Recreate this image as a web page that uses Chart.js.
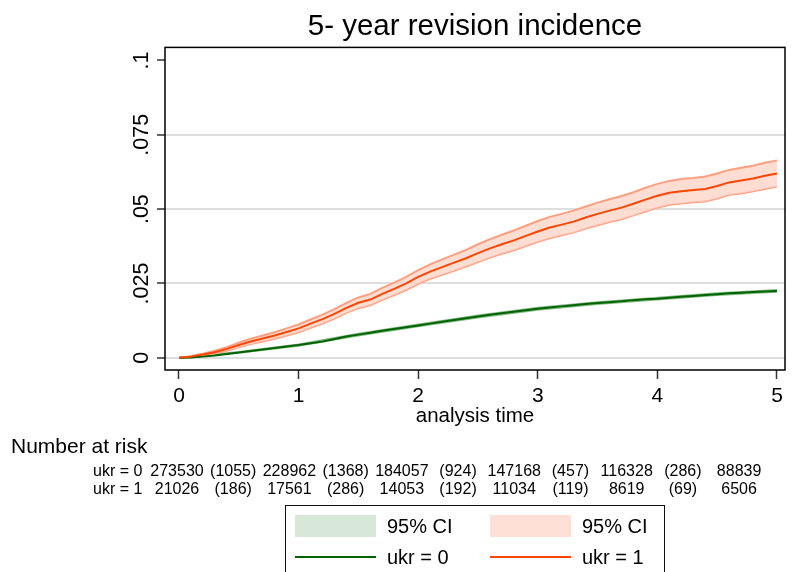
<!DOCTYPE html>
<html>
<head>
<meta charset="utf-8">
<title>5- year revision incidence</title>
<script src="https://cdn.jsdelivr.net/npm/chart.js@4.4.1/dist/chart.umd.min.js"></script>
<style>
  body { margin: 0; background: #fff; font-family: "Liberation Sans", Arial, sans-serif; }
  #wrap { position: relative; width: 798px; height: 572px; overflow: hidden; }
  #chart { position: absolute; left: 0; top: 0; }
  .txt { position: absolute; white-space: nowrap; color: #000; line-height: 1; }
  .risk { font-size: 16px; transform: translate(-50%, -50%); }
  #legend { position: absolute; left: 285px; top: 505px; width: 378px; height: 90px; border: 1px solid #111; }
  .sw { position: absolute; width: 81px; height: 22px; }
  .ln { position: absolute; width: 81px; height: 2px; }
  .lt { position: absolute; font-size: 20px; transform: translateY(-50%); }
</style>
</head>
<body>
<div id="wrap">
  <canvas id="chart" width="798" height="572"></canvas>
  <div class="txt" style="left:11px; top:435px; font-size:21px;">Number at risk</div>
  <div id="risk"></div>
  <div id="legend"></div>
</div>
<script>
// analysis time grid (years)
let times = [0, 0.1, 0.2, 0.3, 0.4, 0.5, 0.6, 0.7, 0.8, 0.9,
             1, 1.1, 1.2, 1.3, 1.4, 1.5, 1.6, 1.7, 1.8, 1.9,
             2, 2.1, 2.2, 2.3, 2.4, 2.5, 2.6, 2.7, 2.8, 2.9,
             3, 3.1, 3.2, 3.3, 3.4, 3.5, 3.6, 3.7, 3.8, 3.9,
             4, 4.1, 4.2, 4.3, 4.4, 4.5, 4.6, 4.7, 4.8, 4.9, 5];

// cumulative incidence, ukr = 0
let ukr0 = [0, 0.0001, 0.0004, 0.0008, 0.0013, 0.0018, 0.0023, 0.0028, 0.0033, 0.0038,
            0.0043, 0.0049, 0.0055, 0.0063, 0.0072, 0.0078, 0.0084, 0.0091, 0.0097, 0.0103,
            0.0109, 0.0115, 0.0121, 0.0127, 0.0133, 0.0139, 0.0145, 0.0150, 0.0155, 0.0160,
            0.0165, 0.0169, 0.0173, 0.0177, 0.0181, 0.0184, 0.0187, 0.0190, 0.0194, 0.0197,
            0.0199, 0.0202, 0.0205, 0.0208, 0.0211, 0.0214, 0.0217, 0.0219, 0.0221, 0.0223, 0.0225];

// cumulative incidence, ukr = 1
let ukr1 = [0, 0.0004, 0.0011, 0.0019, 0.0030, 0.0043, 0.0055, 0.0065, 0.0075, 0.0087,
            0.0099, 0.0115, 0.0130, 0.0148, 0.0168, 0.0185, 0.0196, 0.0215, 0.0232, 0.0250,
            0.0272, 0.0290, 0.0305, 0.0320, 0.0335, 0.0352, 0.0368, 0.0382, 0.0395, 0.0410,
            0.0425, 0.0438, 0.0448, 0.0458, 0.0472, 0.0484, 0.0495, 0.0505, 0.0518, 0.0532,
            0.0545, 0.0555, 0.0560, 0.0564, 0.0568, 0.0578, 0.0590, 0.0596, 0.0603, 0.0612, 0.0620];

let ukr1Lo = [0, 0.0002, 0.0008, 0.0014, 0.0024, 0.0035, 0.0046, 0.0055, 0.0064, 0.0075,
              0.0086, 0.0101, 0.0115, 0.0132, 0.0151, 0.0167, 0.0177, 0.0195, 0.0211, 0.0228,
              0.0249, 0.0266, 0.0279, 0.0293, 0.0307, 0.0322, 0.0337, 0.0350, 0.0362, 0.0376,
              0.0390, 0.0402, 0.0412, 0.0421, 0.0435, 0.0446, 0.0457, 0.0466, 0.0479, 0.0492,
              0.0505, 0.0515, 0.0519, 0.0523, 0.0526, 0.0536, 0.0548, 0.0553, 0.0560, 0.0568, 0.0576];

let ukr1Hi = [0, 0.0006, 0.0014, 0.0024, 0.0036, 0.0051, 0.0064, 0.0075, 0.0086, 0.0099,
              0.0112, 0.0129, 0.0145, 0.0164, 0.0185, 0.0203, 0.0215, 0.0235, 0.0253, 0.0272,
              0.0295, 0.0314, 0.0331, 0.0347, 0.0363, 0.0382, 0.0399, 0.0414, 0.0428, 0.0444,
              0.0460, 0.0474, 0.0484, 0.0495, 0.0509, 0.0522, 0.0533, 0.0544, 0.0557, 0.0572,
              0.0585, 0.0595, 0.0601, 0.0605, 0.0610, 0.0620, 0.0632, 0.0639, 0.0646, 0.0656, 0.0664];

// ukr = 0 band is narrow, half-year steps are enough
let ciTimes0 = [0, 0.5, 1, 1.5, 2, 2.5, 3, 3.5, 4, 4.5, 5];
let ukr0Lo = [0, 0.0016, 0.0040, 0.0074, 0.0105, 0.0135, 0.0161, 0.0180, 0.0195, 0.0210, 0.0221];
let ukr0Hi = [0, 0.0020, 0.0046, 0.0082, 0.0113, 0.0143, 0.0169, 0.0188, 0.0203, 0.0218, 0.0229];

let xTicks = [0, 1, 2, 3, 4, 5];
let yTicks = [0, 0.025, 0.05, 0.075, 0.1];
let yTickLabels = ['0', '.025', '.05', '.075', '.1'];

// number at risk table
let riskTimes = [0, 1, 2, 3, 4, 5];
let atRisk0 = [273530, 228962, 184057, 147168, 116328, 88839];
let censored0 = [1055, 1368, 924, 457, 286];
let atRisk1 = [21026, 17561, 14053, 11034, 8619, 6506];
let censored1 = [186, 286, 192, 119, 69];

const GREEN = '#006400', ORANGE = '#ff4500';
const FONT = '"Liberation Sans", Arial, sans-serif';

function pts(xs, ys) { return xs.map((x, i) => ({x: x, y: ys[i]})); }

// frame round the plot region plus the vertical y labels
const plotFrame = {
  id: 'plotFrame',
  afterDatasetsDraw(chart) {
    const {ctx, chartArea: a} = chart;
    ctx.save();
    ctx.strokeStyle = '#000';
    ctx.lineWidth = 1.5;
    ctx.strokeRect(a.left, a.top, a.right - a.left, a.bottom - a.top);
    ctx.restore();
  },
  afterDraw(chart) {
    const {ctx} = chart;
    const ys = chart.scales.y;
    ctx.save();
    ctx.fillStyle = '#000';
    ctx.font = '21.5px ' + FONT;
    ctx.textAlign = 'center';
    ctx.textBaseline = 'middle';
    ys.ticks.forEach((tk, i) => {
      ctx.save();
      ctx.translate(142, ys.getPixelForValue(tk.value));
      ctx.rotate(-Math.PI / 2);
      ctx.fillText(yTickLabels[i], 0, 0);
      ctx.restore();
    });
    ctx.restore();
  }
};

let ctx = document.getElementById('chart').getContext('2d');
let chart = new Chart(ctx, {
  type: 'line',
  data: {
    datasets: [
      { label: 'ukr = 1', data: pts(times, ukr1), borderColor: ORANGE, borderWidth: 2, order: 0 },
      { label: 'ukr = 0', data: pts(times, ukr0), borderColor: GREEN, borderWidth: 2, order: 1 },
      { label: '95% CI', data: pts(times, ukr1Hi), borderColor: '#ff9f80', borderWidth: 2,
        backgroundColor: 'rgba(253, 210, 196, 0.75)', fill: '+1', order: 2 },
      { label: 'ukr1 lo', data: pts(times, ukr1Lo), borderColor: '#ff9f80', borderWidth: 2, order: 3 },
      { label: '95% CI', data: pts(ciTimes0, ukr0Hi), borderColor: 'rgba(60, 140, 60, 0.6)', borderWidth: 1.5,
        backgroundColor: 'rgba(120, 180, 120, 0.5)', fill: '+1', order: 4 },
      { label: 'ukr0 lo', data: pts(ciTimes0, ukr0Lo), borderColor: 'rgba(60, 140, 60, 0.6)', borderWidth: 1.5, order: 5 }
    ]
  },
  options: {
    responsive: false,
    animation: false,
    elements: {
      point: { radius: 0 },
      line: { tension: 0 }
    },
    layout: {
      padding: { left: 0, right: 13, top: 0, bottom: 127 }
    },
    plugins: {
      legend: { display: false },
      tooltip: { enabled: false },
      title: {
        display: true,
        text: '5- year revision incidence',
        fullSize: false,
        color: '#000',
        font: { family: FONT, size: 29.5, weight: 'normal' },
        padding: { top: 9, bottom: 3 }
      }
    },
    scales: {
      x: {
        type: 'linear',
        min: -0.117,
        max: 5.067,
        afterBuildTicks: s => { s.ticks = xTicks.map(v => ({value: v})); },
        afterFit: s => { s.height = 75; },
        grid: { drawOnChartArea: false, tickLength: 9, tickColor: '#333', tickWidth: 1.5 },
        border: { display: false },
        ticks: {
          color: '#000',
          padding: 5,
          maxRotation: 0,
          font: { family: FONT, size: 21 },
          callback: (v, i) => String(xTicks[i])
        },
        title: {
          display: true,
          text: 'analysis time',
          color: '#000',
          font: { family: FONT, size: 20.5 },
          padding: { top: 0, bottom: 16 }
        }
      },
      y: {
        min: -0.0041,
        max: 0.1044,
        afterBuildTicks: s => { s.ticks = yTicks.map(v => ({value: v})); },
        afterFit: s => { s.width = 165; },
        grid: {
          color: c => (c.tick && c.tick.value === 0.1) ? 'rgba(0,0,0,0)' : '#dedede',
          lineWidth: 2,
          tickLength: 8,
          tickColor: '#333',
          tickWidth: 1.5
        },
        border: { display: false },
        ticks: { display: false }
      }
    }
  },
  plugins: [plotFrame]
});

// number at risk rows, placed under the time axis
function riskCell(text, x, y) {
  let d = document.createElement('div');
  d.className = 'txt risk';
  d.style.left = x + 'px';
  d.style.top = y + 'px';
  d.textContent = text;
  document.getElementById('risk').appendChild(d);
}
function riskRow(name, atRisk, censored, y) {
  let d = document.createElement('div');
  d.className = 'txt';
  d.style.cssText = 'left:93px; top:' + y + 'px; font-size:16px; transform:translateY(-50%);';
  d.textContent = name;
  document.getElementById('risk').appendChild(d);
  const xs = chart.scales.x;
  riskTimes.forEach((t, i) => {
    riskCell(String(atRisk[i]), xs.getPixelForValue(t * 0.94) - 2, y);
    if (i < censored.length) {
      riskCell('(' + censored[i] + ')', xs.getPixelForValue((t + 0.5) * 0.94) - 2, y);
    }
  });
}
riskRow('ukr = 0', atRisk0, censored0, 471);
riskRow('ukr = 1', atRisk1, censored1, 489);

// legend: CI swatches on the first row, lines on the second
let legend = document.getElementById('legend');
let legendItems = [
  { kind: 'sw', color: '#d7e8d9', text: '95% CI', col: 0, row: 0 },
  { kind: 'sw', color: '#fee0d6', text: '95% CI', col: 1, row: 0 },
  { kind: 'ln', color: GREEN, text: 'ukr = 0', col: 0, row: 1 },
  { kind: 'ln', color: ORANGE, text: 'ukr = 1', col: 1, row: 1 }
];
legendItems.forEach(it => {
  const left = 9 + it.col * 195;
  const cy = it.row === 0 ? 20 : 51;
  let m = document.createElement('div');
  m.className = it.kind;
  m.style.background = it.color;
  m.style.left = left + 'px';
  m.style.top = (it.kind === 'sw' ? cy - 11 : cy - 1) + 'px';
  legend.appendChild(m);
  let t = document.createElement('div');
  t.className = 'txt lt';
  t.style.left = (left + 92) + 'px';
  t.style.top = cy + 'px';
  t.textContent = it.text;
  legend.appendChild(t);
});
</script>
</body>
</html>
